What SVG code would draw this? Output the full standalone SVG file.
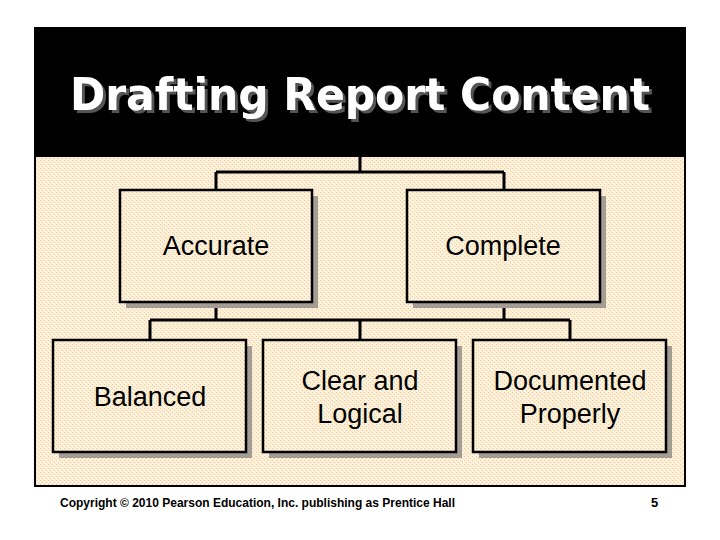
<svg xmlns="http://www.w3.org/2000/svg" width="720" height="540" viewBox="0 0 720 540">
<defs>
<pattern id="dots" width="4" height="4" patternUnits="userSpaceOnUse">
<rect width="4" height="4" fill="#FDF0D6"/>
<rect x="0" y="0" width="1" height="1" fill="#E0CFB0"/>
<rect x="2" y="2" width="1" height="1" fill="#E0CFB0"/>
</pattern>
<filter id="tshadow" x="-5%" y="-20%" width="110%" height="140%">
<feOffset in="SourceAlpha" dx="3" dy="3" result="o"/>
<feFlood flood-color="#555"/>
<feComposite in2="o" operator="in" result="s"/>
<feMerge><feMergeNode in="s"/><feMergeNode in="SourceGraphic"/></feMerge>
</filter>
<style>
.box{fill:url(#dots);stroke:#000;stroke-width:2.5}
.sh{fill:#A39D93}
.lbl{font-family:"Liberation Sans",Arial,sans-serif;font-size:27px;fill:#000;text-anchor:middle}
.con{fill:none;stroke:#000;stroke-width:3}
</style>
</defs>
<rect width="720" height="540" fill="#fff"/>
<rect x="35" y="28" width="650" height="458" fill="url(#dots)" stroke="#000" stroke-width="2"/>
<rect x="35" y="28" width="650" height="129" fill="#000"/>
<g id="title">
<text x="360" y="110" font-family="DejaVu Sans,Verdana,sans-serif" font-weight="bold" font-size="44" fill="#fff" text-anchor="middle" textLength="580" lengthAdjust="spacingAndGlyphs" filter="url(#tshadow)">Drafting Report Content</text>
</g>
<g id="connectors">
<path class="con" d="M360 157V172M216 172H504M216 172V190M504 172V190"/>
<path class="con" d="M216 302V320M504 302V320M150 320H570M150 320V340M360 320V340M570 320V340"/>
</g>
<g id="accurate">
<rect class="sh" x="126" y="196" width="192" height="112"/>
<rect class="box" x="120" y="190" width="192" height="112"/>
<text class="lbl" x="216" y="255">Accurate</text>
</g>
<g id="complete">
<rect class="sh" x="413" y="196" width="193" height="112"/>
<rect class="box" x="407" y="190" width="193" height="112"/>
<text class="lbl" x="503" y="255">Complete</text>
</g>
<g id="balanced">
<rect class="sh" x="59" y="346" width="193" height="112"/>
<rect class="box" x="53" y="340" width="193" height="112"/>
<text class="lbl" x="150" y="406">Balanced</text>
</g>
<g id="clear">
<rect class="sh" x="269" y="346" width="193" height="112"/>
<rect class="box" x="263" y="340" width="193" height="112"/>
<text class="lbl" x="360" y="390">Clear and</text>
<text class="lbl" x="360" y="423">Logical</text>
</g>
<g id="documented">
<rect class="sh" x="479" y="346" width="193" height="112"/>
<rect class="box" x="473" y="340" width="193" height="112"/>
<text class="lbl" x="570" y="390">Documented</text>
<text class="lbl" x="570" y="423">Properly</text>
</g>
<g id="footer" font-family="Liberation Sans Narrow,Liberation Sans,Arial,sans-serif" font-weight="bold" font-size="13" fill="#000">
<text x="60" y="507" textLength="395" lengthAdjust="spacingAndGlyphs">Copyright © 2010 Pearson Education, Inc. publishing as Prentice Hall</text>
<text x="651" y="507">5</text>
</g>
</svg>
